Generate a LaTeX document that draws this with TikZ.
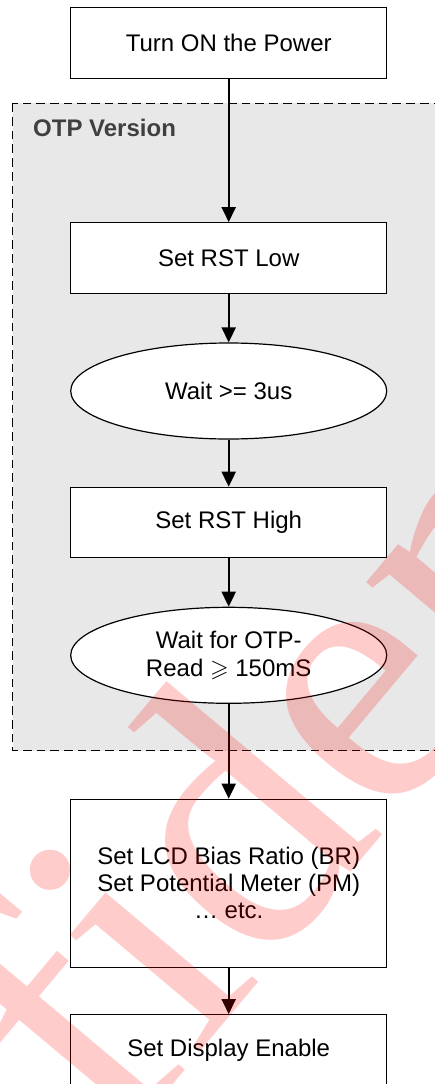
\documentclass[tikz,border=0pt]{standalone}
\usepackage{amssymb}
\usepackage{fontspec}
\setmainfont{Liberation Sans}
\newfontfamily\wmfont{Liberation Serif}
\usetikzlibrary{arrows.meta,shapes.geometric}
\definecolor{regiongray}{RGB}{232,232,232}
\definecolor{labelgray}{RGB}{64,64,64}
\tikzset{
  procbox/.style={draw, line width=1.2pt, fill=white, minimum width=316pt,
    inner sep=0pt, align=center, font=\fontsize{24}{27}\selectfont},
  waitoval/.style={ellipse, draw, line width=1.2pt, fill=white, minimum width=316pt,
    minimum height=96pt, inner sep=0pt, align=center, font=\fontsize{24}{28}\selectfont},
  flow/.style={line width=2pt, -{Triangle[length=15pt,width=14pt]}},
  region/.style={draw, fill=regiongray, line width=1.3pt, dash pattern=on 8.7pt off 5pt},
}
\begin{document}
\begin{tikzpicture}[x=1pt,y=1pt]
\useasboundingbox (0,0) rectangle (435,-1084);
% OTP region
\path[region] (12.7,-103.3) rectangle (450,-750.7);
\node[anchor=base west, inner sep=0pt, text=labelgray, font=\bfseries\fontsize{24}{27}\selectfont] (otp) at (33,-136) {OTP Version};
% nodes
\node[procbox, minimum height=71pt] (n1) at (228.7,-42.8) {Turn ON the Power};
\node[procbox, minimum height=70.6pt] (n2) at (228.7,-258) {Set RST Low};
\node[waitoval] (e1) at (228.7,-391) {Wait >= 3us};
\node[procbox, minimum height=70.4pt] (n3) at (228.7,-522.5) {Set RST High};
\node[waitoval] (e2) at (228.7,-655.3) {Wait for OTP-\\Read $\geqslant$ 150mS};
\node[procbox, minimum height=168pt] (n4) at (228.7,-883.3) {Set LCD Bias Ratio (BR)\\Set Potential Meter (PM)\\\dots\ etc.};
\node[procbox, minimum height=71pt] (n5) at (228.7,-1050.2) {Set Display Enable};
% connectors
\draw[flow] (n1) -- (n2);
\draw[flow] (n2) -- (e1);
\draw[flow] (e1) -- (n3);
\draw[flow] (n3) -- (e2);
\draw[flow] (e2) -- (n4);
\draw[flow] (n4) -- (n5);
% watermark
\node[rotate=50, anchor=base west, inner sep=0pt, text=red, opacity=0.2,
  font=\wmfont\fontsize{380}{380}\selectfont] (wm) at (-293,-1640) {Confidential};
\end{tikzpicture}
\end{document}
